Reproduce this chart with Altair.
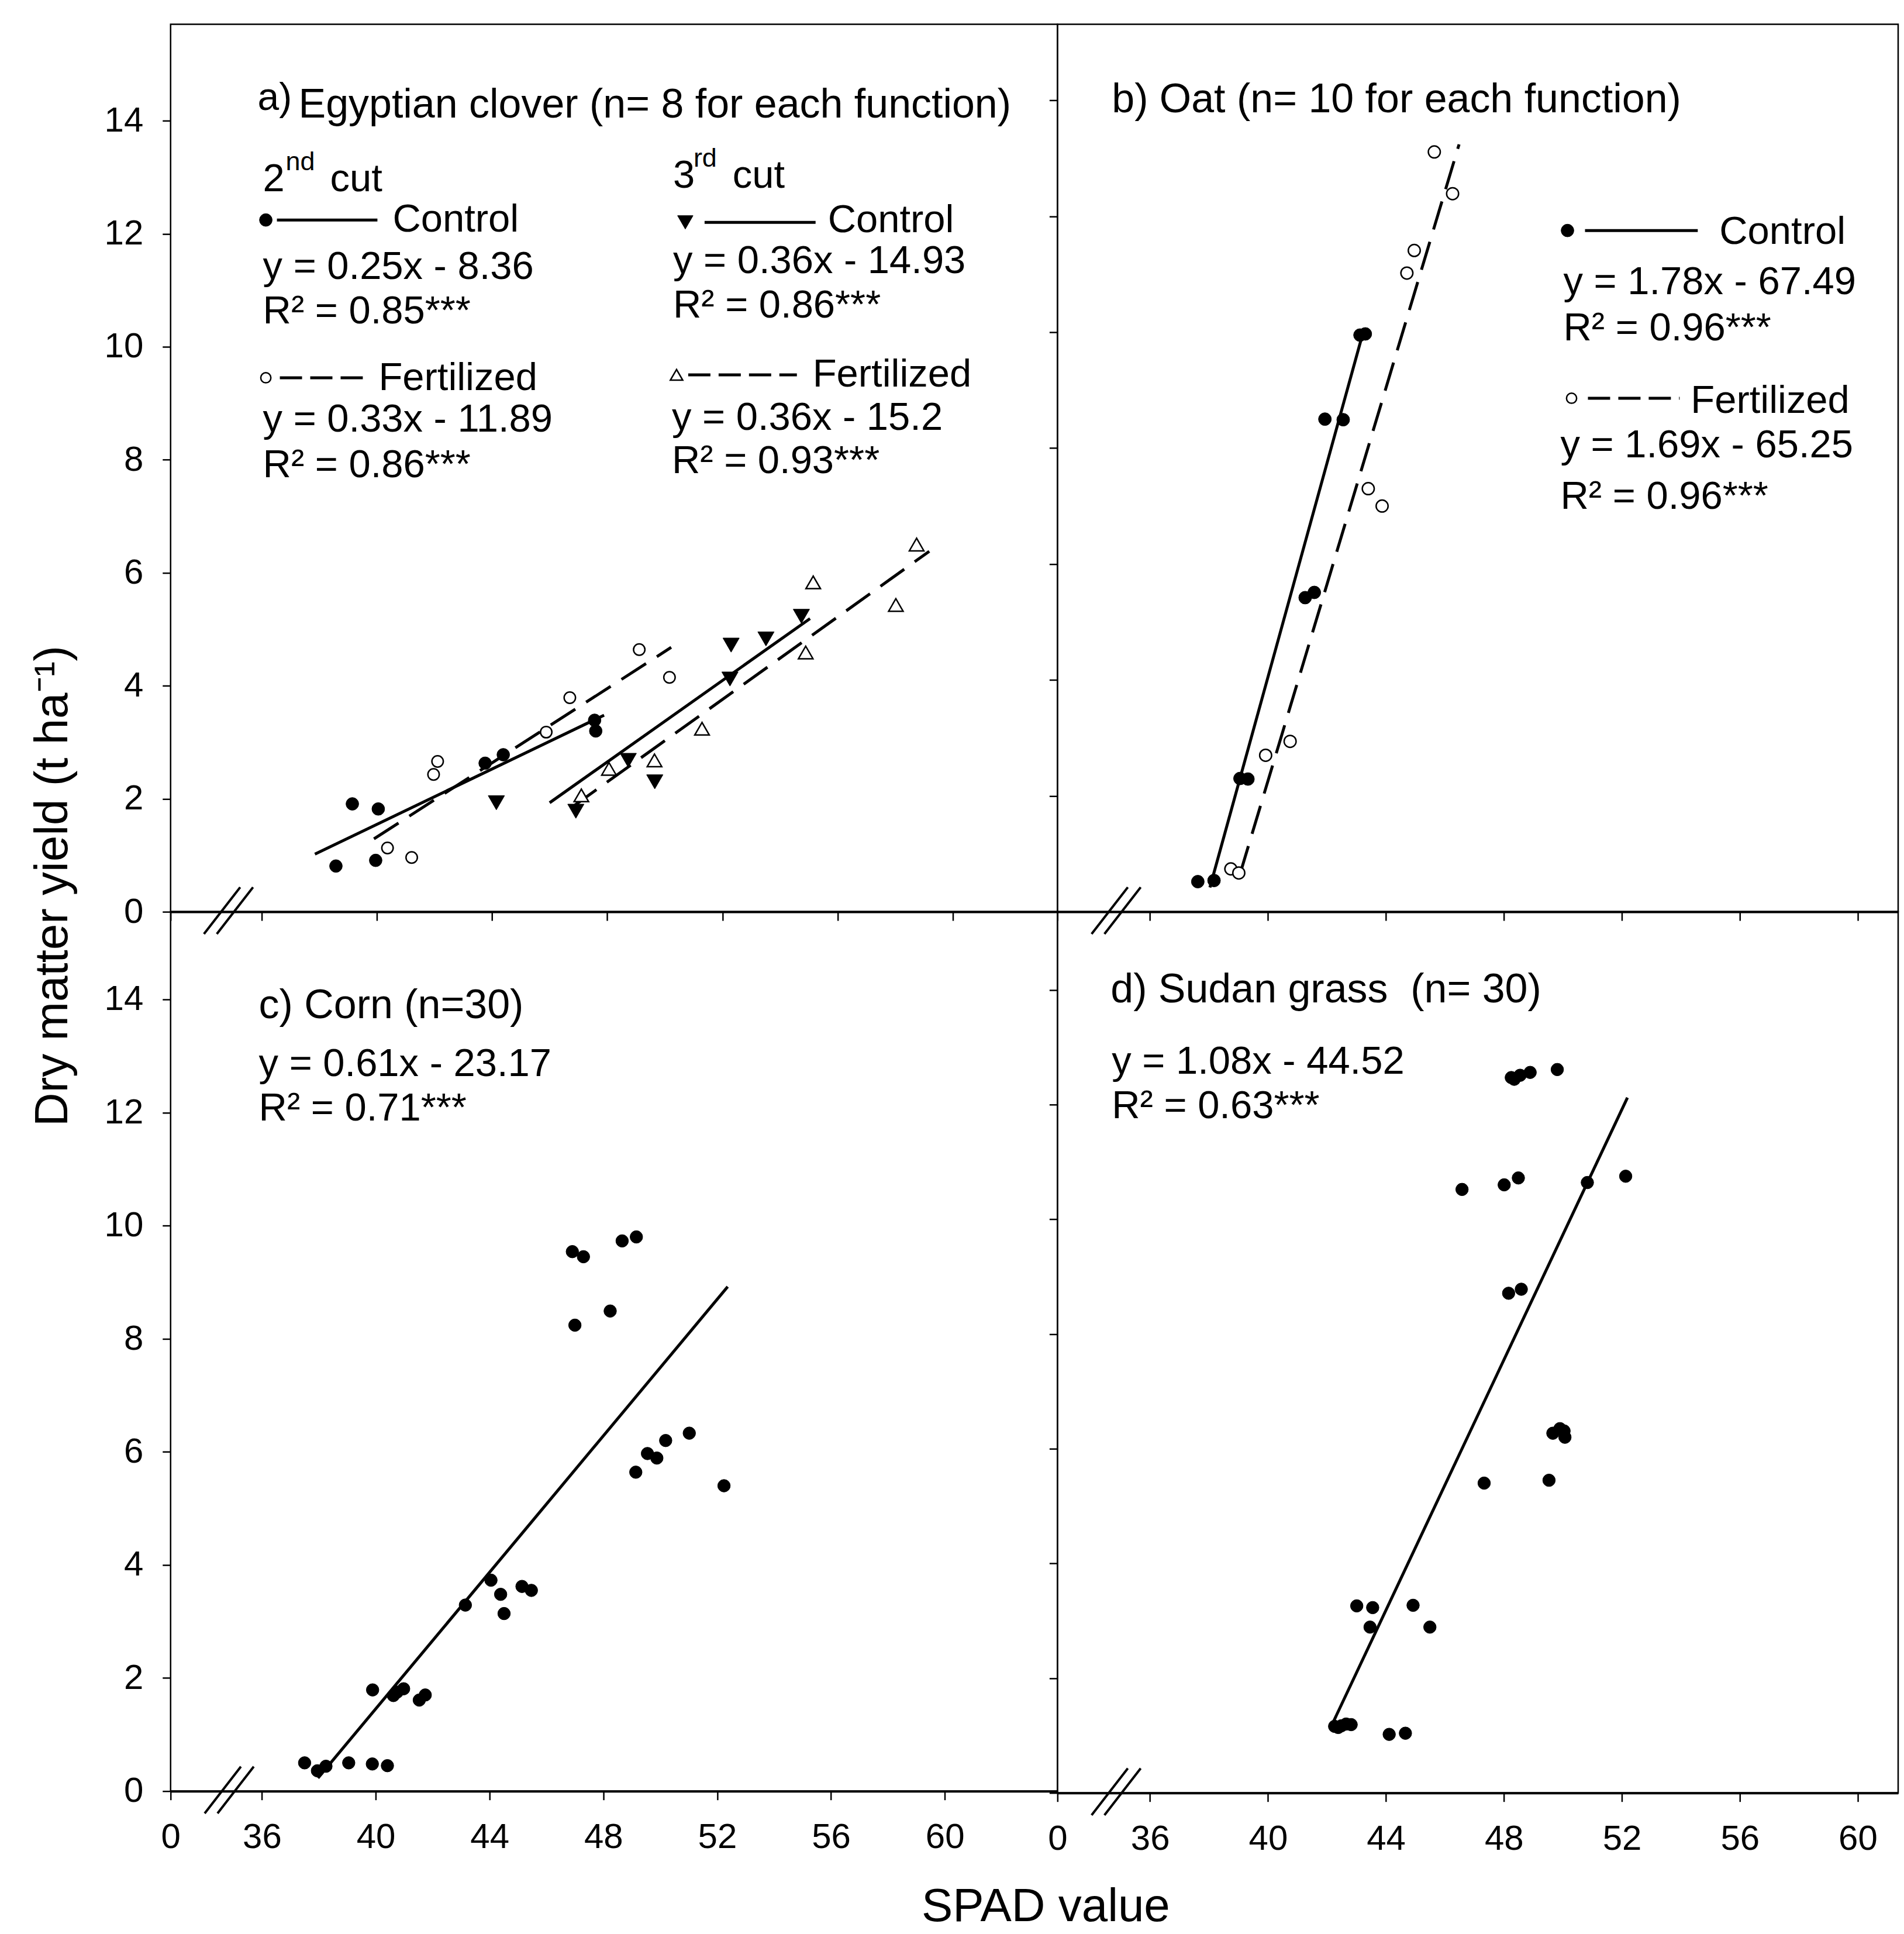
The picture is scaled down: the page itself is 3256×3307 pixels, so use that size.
import json
import altair as alt
import pandas as pd

FONT = "Liberation Sans"

# ---------------- data ----------------
# a) Egyptian clover
a2_ctrl_x = [38.58, 39.15, 40.05, 39.96, 43.76, 44.39, 47.56, 47.60]
a2_ctrl_y = [0.81, 1.91, 1.82, 0.91, 2.63, 2.78, 3.39, 3.20]
a2_fert_x = [40.37, 41.21, 41.97, 42.11, 45.88, 46.70, 49.11, 50.16]
a2_fert_y = [1.13, 0.96, 2.43, 2.66, 3.18, 3.79, 4.64, 4.15]
a3_ctrl_x = [44.15, 46.91, 48.73, 49.65, 52.30, 52.26, 53.51, 54.74]
a3_ctrl_y = [1.93, 1.78, 2.68, 2.30, 4.72, 4.12, 4.83, 5.23]
a3_fert_x = [47.10, 48.06, 49.64, 51.29, 54.89, 55.15, 58.02, 58.74]
a3_fert_y = [2.06, 2.53, 2.68, 3.24, 4.59, 5.83, 5.43, 6.50]
# fitted lines (start x, start y, end x, end y)
a_fit_x1 = [37.85, 39.90, 46.00, 46.80]
a_fit_y1 = [1.02, 1.29, 1.93, 1.86]
a_fit_x2 = [47.89, 50.22, 55.04, 59.18]
a_fit_y2 = [3.48, 4.68, 5.19, 6.38]

# b) Oat
b_ctrl_x = [37.62, 38.17, 39.05, 39.32, 41.26, 41.57, 41.93, 42.55, 43.12, 43.30]
b_ctrl_y = [0.52, 0.54, 2.30, 2.29, 5.42, 5.51, 8.50, 8.49, 9.95, 9.97]
b_fert_x = [38.74, 39.01, 39.92, 40.75, 43.40, 43.87, 44.71, 44.96, 45.64, 46.26]
b_fert_y = [0.74, 0.67, 2.70, 2.94, 7.30, 7.00, 11.02, 11.41, 13.11, 12.39]
b_fit_x1 = [38.03, 39.05]
b_fit_y1 = [0.42, 0.65]
b_fit_x2 = [43.21, 46.48]
b_fit_y2 = [9.97, 13.24]

# c) Corn
c_x = [37.50, 37.95, 38.25, 39.05, 39.88, 40.41, 39.89, 40.62, 40.75, 40.98,
       41.53, 41.74, 43.15, 44.05, 44.39, 44.51, 45.14, 45.47, 46.91, 47.30,
       47.00, 48.66, 49.16, 48.24, 49.14, 49.55, 49.88, 50.19, 51.02, 52.24]
c_y = [0.50, 0.36, 0.44, 0.50, 0.48, 0.45, 1.79, 1.69, 1.75, 1.81,
       1.61, 1.70, 3.29, 3.73, 3.48, 3.14, 3.62, 3.55, 9.54, 9.45,
       8.24, 9.73, 9.80, 8.49, 5.64, 5.97, 5.89, 6.20, 6.33, 5.40]
c_fit_x1 = [37.97]
c_fit_y1 = [0.23]
c_fit_x2 = [52.37]
c_fit_y2 = [8.92]

# d) Sudan grass
d_x = [48.25, 48.35, 48.55, 48.89, 49.81, 46.58, 48.01, 48.49, 50.83, 52.13,
       48.16, 48.59, 49.66, 49.90, 50.04, 50.07, 47.33, 49.53, 43.01, 43.55,
       44.92, 43.46, 45.49, 42.26, 42.38, 42.49, 42.65, 42.82, 44.11, 44.66]
d_y = [12.47, 12.44, 12.51, 12.56, 12.61, 10.52, 10.60, 10.72, 10.64, 10.75,
       8.71, 8.78, 6.27, 6.35, 6.31, 6.20, 5.40, 5.45, 3.26, 3.23,
       3.27, 2.89, 2.89, 1.16, 1.14, 1.17, 1.20, 1.19, 1.02, 1.04]
d_fit_x1 = [42.19]
d_fit_y1 = [1.21]
d_fit_x2 = [52.19]
d_fit_y2 = [12.12]

# axes
x_tick_values = [36, 40, 44, 48, 52, 56, 60]
x_tick_labels = ["0", "36", "40", "44", "48", "52", "56", "60"]
y_tick_values = [0, 2, 4, 6, 8, 10, 12, 14]
y_tick_labels = ["0", "2", "4", "6", "8", "10", "12", "14"]
axis_break_x = [34.85]

# ---------------- helpers ----------------
ONE = alt.Data(values=[{}])


def x_enc(dom, show_labels):
    vals = [dom[0]] + x_tick_values
    expr = "{}[indexof({}, datum.value)]".format(json.dumps(x_tick_labels), json.dumps(vals))
    return alt.X(
        "x:Q",
        scale=alt.Scale(domain=dom, nice=False, zero=False),
        axis=alt.Axis(values=vals, labelExpr=expr, labels=show_labels, title=None, grid=False,
                      domain=True, domainColor="black", domainWidth=4,
                      ticks=True, tickColor="black", tickWidth=2.5, tickSize=15,
                      labelFont=FONT, labelFontSize=60, labelColor="black",
                      labelPadding=35, labelFlush=False, labelOverlap=False),
    )


def y_enc(dom, show_labels):
    expr = "{}[indexof({}, datum.value)]".format(json.dumps(y_tick_labels), json.dumps(y_tick_values))
    return alt.Y(
        "y:Q",
        scale=alt.Scale(domain=dom, nice=False, zero=False),
        axis=alt.Axis(values=y_tick_values, labelExpr=expr, labels=show_labels, title=None, grid=False,
                      domain=False, ticks=True, tickColor="black", tickWidth=2.5, tickSize=14,
                      labelFont=FONT, labelFontSize=60, labelColor="black",
                      labelPadding=33, labelFlush=False, labelOverlap=False),
    )


def points(xs, ys, xe, ye, shape, filled, size):
    df = pd.DataFrame({"x": xs, "y": ys})
    if filled:
        m = alt.Chart(df).mark_point(shape=shape, filled=True, fill="black", stroke="black",
                                     strokeWidth=1, size=size, opacity=1)
    else:
        m = alt.Chart(df).mark_point(shape=shape, filled=False, fill="white", fillOpacity=1,
                                     stroke="black", strokeWidth=2.5, size=size, opacity=1)
    return m.encode(x=xe, y=ye)


def fit(x1, y1, x2, y2, xe, ye, dashed):
    df = pd.DataFrame({"x": x1, "y": y1, "x2": x2, "y2": y2})
    kw = dict(color="black", strokeWidth=5)
    if dashed:
        kw["strokeDash"] = [50, 22]
    return alt.Chart(df).mark_rule(**kw).encode(x=xe, y=ye, x2="x2:Q", y2="y2:Q")


def breaks(xe):
    df = pd.DataFrame({"x": axis_break_x, "y": [0] * len(axis_break_x)})
    out = []
    for dx in (-11, 11):
        out.append(
            alt.Chart(df).mark_rule(color="black", strokeWidth=4,
                                    xOffset=dx - 31, x2Offset=dx + 31,
                                    yOffset=38, y2Offset=-42)
            .encode(x=xe, x2="x:Q", y=alt.Y("y:Q"), y2="y:Q")
        )
    return out


def txt(s, px, py, fs=67, align="left", angle=0, baseline="alphabetic"):
    return alt.Chart(ONE).mark_text(text=s, align=align, baseline=baseline, angle=angle,
                                    font=FONT, fontSize=fs, color="black").encode(
        x=alt.value(px), y=alt.value(py))


def sym(px, py, shape, filled, size):
    if filled:
        m = alt.Chart(ONE).mark_point(shape=shape, filled=True, fill="black", stroke="black",
                                      strokeWidth=1, size=size, opacity=1)
    else:
        m = alt.Chart(ONE).mark_point(shape=shape, filled=False, fill="white", fillOpacity=1,
                                      stroke="black", strokeWidth=2.5, size=size, opacity=1)
    return m.encode(x=alt.value(px), y=alt.value(py))


def seg(xa, xb, py, dashed):
    kw = dict(color="black", strokeWidth=5)
    if dashed:
        kw["strokeDash"] = [38, 14]
    return alt.Chart(ONE).mark_rule(**kw).encode(x=alt.value(xa), x2=alt.value(xb), y=alt.value(py))


TOP_H = 1519

# ---------------- panel a ----------------
A_W = 1518
xa = x_enc([32.84, 63.63], False)
ya = y_enc([0, TOP_H / 96.7], True)
pa = alt.layer(
    fit(a_fit_x1[0:1], a_fit_y1[0:1], a_fit_x2[0:1], a_fit_y2[0:1], xa, ya, False),
    fit(a_fit_x1[1:2], a_fit_y1[1:2], a_fit_x2[1:2], a_fit_y2[1:2], xa, ya, True),
    fit(a_fit_x1[2:3], a_fit_y1[2:3], a_fit_x2[2:3], a_fit_y2[2:3], xa, ya, False),
    fit(a_fit_x1[3:4], a_fit_y1[3:4], a_fit_x2[3:4], a_fit_y2[3:4], xa, ya, True),
    points(a2_ctrl_x, a2_ctrl_y, xa, ya, "circle", True, 470),
    points(a2_fert_x, a2_fert_y, xa, ya, "circle", False, 380),
    points(a3_ctrl_x, a3_ctrl_y, xa, ya, "triangle-down", True, 780),
    points(a3_fert_x, a3_fert_y, xa, ya, "triangle-up", False, 620),
    *breaks(xa),
    txt("a)", 149, 147, fs=66),
    txt("Egyptian clover (n= 8 for each function)", 219, 160, fs=70),
    txt("2", 158, 286), txt("nd", 197, 250, fs=45), txt("cut", 273, 286),
    sym(163, 335, "circle", True, 470), seg(182, 354, 335, False), txt("Control", 380, 355),
    txt("y = 0.25x - 8.36", 158, 436), txt("R\u00b2 = 0.85***", 158, 512),
    sym(163, 605, "circle", False, 300), seg(187, 340, 605, True), txt("Fertilized", 356, 626),
    txt("y = 0.33x - 11.89", 158, 697), txt("R\u00b2 = 0.86***", 158, 775),
    txt("3", 860, 280), txt("rd", 895, 244, fs=45), txt("cut", 962, 280),
    sym(881, 339, "triangle-down", True, 700), seg(914, 1104, 339, False), txt("Control", 1125, 356),
    txt("y = 0.36x - 14.93", 860, 426), txt("R\u00b2 = 0.86***", 860, 502),
    sym(866, 600, "triangle-up", False, 450), seg(886, 1072, 600, True), txt("Fertilized", 1099, 620),
    txt("y = 0.36x - 15.2", 858, 694), txt("R\u00b2 = 0.93***", 858, 768),
    txt("Dry matter yield (t ha\u207b\u00b9)", -201, 1475, fs=80, align="center", angle=270, baseline="middle"),
    alt.Chart(ONE).mark_rule(opacity=0).encode(x=alt.value(-282), x2=alt.value(-282),
                                               y=alt.value(-30), y2=alt.value(-29)),
).properties(width=A_W, height=TOP_H)

# ---------------- panel b ----------------
B_W = 1439
xb = x_enc([32.86, 61.37], False)
yb = y_enc([0, TOP_H / 99.2], False)
pb = alt.layer(
    fit(b_fit_x1[0:1], b_fit_y1[0:1], b_fit_x2[0:1], b_fit_y2[0:1], xb, yb, False),
    fit(b_fit_x1[1:2], b_fit_y1[1:2], b_fit_x2[1:2], b_fit_y2[1:2], xb, yb, True),
    points(b_ctrl_x, b_ctrl_y, xb, yb, "circle", True, 480),
    points(b_fert_x, b_fert_y, xb, yb, "circle", False, 420),
    *breaks(xb),
    txt("b) Oat (n= 10 for each function)", 93, 151, fs=70),
    sym(873, 353, "circle", True, 470), seg(903, 1096, 353, False), txt("Control", 1133, 376),
    txt("y = 1.78x - 67.49", 866, 462), txt("R\u00b2 = 0.96***", 866, 541),
    sym(880, 640, "circle", False, 300), seg(908, 1065, 640, True), txt("Fertilized", 1084, 665),
    txt("y = 1.69x - 65.25", 861, 741), txt("R\u00b2 = 0.96***", 861, 829),
).properties(width=B_W, height=TOP_H)

# ---------------- panel c ----------------
C_W, C_H = 1518, 1505
xc = x_enc([32.79, 63.96], True)
yc = y_enc([0, 15.55], True)
pc = alt.layer(
    fit(c_fit_x1, c_fit_y1, c_fit_x2, c_fit_y2, xc, yc, False),
    points(c_x, c_y, xc, yc, "circle", True, 460),
    *breaks(xc),
    txt("c) Corn (n=30)", 151, 182, fs=70),
    txt("y = 0.61x - 23.17", 151, 281),
    txt("R\u00b2 = 0.71***", 151, 357),
    txt("SPAD value", 1498, 1728, fs=80, align="center"),
).properties(width=C_W, height=C_H)

# ---------------- panel d ----------------
D_W, D_H = 1439, 1508
xd = x_enc([32.86, 61.37], True)
yd = y_enc([0, 15.36], False)
pd_ = alt.layer(
    fit(d_fit_x1, d_fit_y1, d_fit_x2, d_fit_y2, xd, yd, False),
    points(d_x, d_y, xd, yd, "circle", True, 460),
    *breaks(xd),
    txt("d) Sudan grass\u00a0 (n= 30)", 91, 155, fs=70),
    txt("y = 1.08x - 44.52", 93, 277),
    txt("R\u00b2 = 0.63***", 93, 353),
).properties(width=D_W, height=D_H)

chart = (
    alt.concat(pa, pb, pc, pd_, columns=2, spacing=0, bounds="flush")
    .properties(padding=0, background="white")
    .configure_view(stroke="black", strokeWidth=2.5)
)

chart.save("out.html", embed_options={"renderer": "svg", "actions": False})
